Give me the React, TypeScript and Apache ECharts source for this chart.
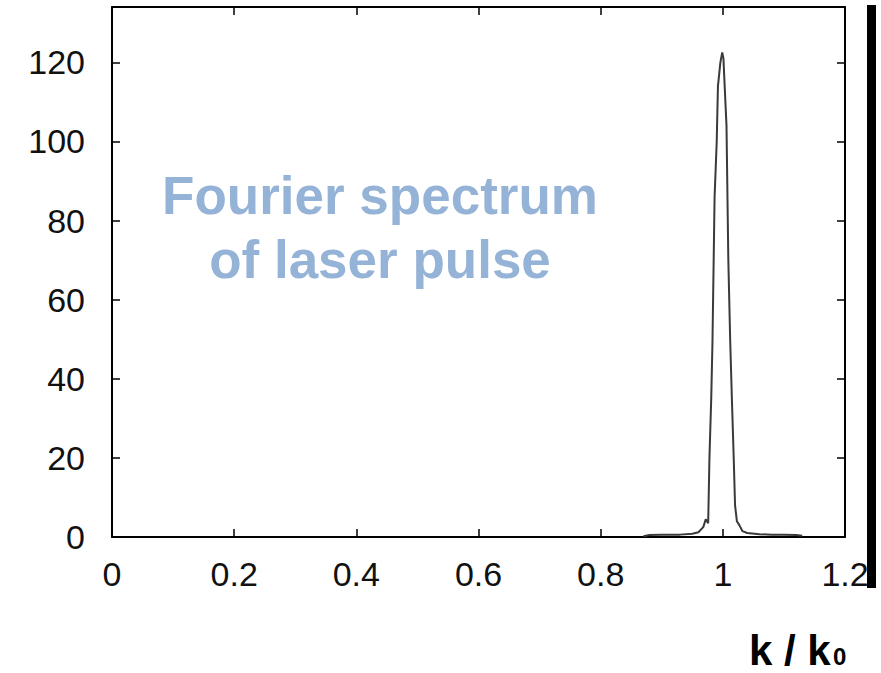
import React, { useEffect, useRef } from "react";
import * as echarts from "echarts";

// Normalised wavenumber k/k0 and spectral amplitude of the pulse
const kValues = [
  0.87, 0.88, 0.9, 0.93, 0.95, 0.96, 0.968, 0.972, 0.976, 0.978, 0.981, 0.983,
  0.985, 0.9865, 0.99, 0.992, 0.996, 0.999, 1.001, 1.003, 1.006, 1.009, 1.012,
  1.015, 1.018, 1.02, 1.023, 1.027, 1.032, 1.04, 1.06, 1.08, 1.1, 1.12, 1.13,
];
const amplitude = [
  0.2, 0.5, 0.6, 0.6, 0.8, 1.2, 2.5, 4.5, 3.5, 19.5, 35, 49, 70, 86, 100, 114,
  120, 122.5, 121, 114, 104, 70, 50, 34, 19, 8, 4, 3, 1.5, 1.0, 0.7, 0.6, 0.6,
  0.5, 0.3,
];

const xTicks = ["0", "0.2", "0.4", "0.6", "0.8", "1", "1.2"];
const yTicks = ["0", "20", "40", "60", "80", "100", "120"];

const titleLines = ["Fourier spectrum", "of laser pulse"];

export default function App() {
  const ref = useRef<HTMLDivElement>(null);

  useEffect(() => {
    if (!ref.current) return;
    const chart = echarts.init(ref.current, null, { renderer: "svg" });

    const labelFont = {
      fontFamily: "Liberation Sans",
      fontSize: 34,
      color: "#111",
    };
    const axisLine = { show: true, onZero: false, lineStyle: { color: "#000", width: 2 } };
    const tick = { show: true, inside: true, length: 8, lineStyle: { color: "#000", width: 1.5 } };

    const xFmt = (v: number) => {
      const i = Math.round(v / 0.2);
      return Math.abs(v - i * 0.2) < 1e-6 ? xTicks[i] ?? "" : "";
    };
    const yFmt = (v: number) => {
      const i = Math.round(v / 20);
      return Math.abs(v - i * 20) < 1e-6 ? yTicks[i] ?? "" : "";
    };

    chart.setOption({
      animation: false,
      backgroundColor: "#fff",
      grid: { left: 112, top: 7, right: 36, bottom: 136 },
      xAxis: [
        {
          type: "value",
          position: "bottom",
          min: 0,
          max: 1.2,
          interval: 0.2,
          axisLine,
          axisTick: tick,
          splitLine: { show: false },
          axisLabel: { ...labelFont, margin: 20, formatter: xFmt },
        },
        {
          type: "value",
          position: "top",
          min: 0,
          max: 1.2,
          interval: 0.2,
          axisLine,
          axisTick: tick,
          splitLine: { show: false },
          axisLabel: { show: false },
        },
      ],
      yAxis: [
        {
          type: "value",
          position: "left",
          min: 0,
          max: 134,
          interval: 20,
          axisLine,
          axisTick: tick,
          splitLine: { show: false },
          axisLabel: { ...labelFont, margin: 27, showMaxLabel: false, formatter: yFmt },
        },
        {
          type: "value",
          position: "right",
          min: 0,
          max: 134,
          interval: 20,
          axisLine,
          axisTick: tick,
          splitLine: { show: false },
          axisLabel: { show: false },
        },
      ],
      series: [
        {
          type: "line",
          xAxisIndex: 0,
          yAxisIndex: 0,
          data: kValues.map((k, i) => [k, amplitude[i]]),
          showSymbol: false,
          lineStyle: { color: "#3a3a3a", width: 2 },
        },
      ],
      graphic: [
        {
          type: "text",
          x: 380,
          y: 222,
          style: {
            text: titleLines[0],
            fill: "#95b3d7",
            font: "bold 53px 'Liberation Sans', Arial, sans-serif",
            textAlign: "center",
            textVerticalAlign: "bottom",
          },
        },
        {
          type: "text",
          x: 380,
          y: 286,
          style: {
            text: titleLines[1],
            fill: "#95b3d7",
            font: "bold 53px 'Liberation Sans', Arial, sans-serif",
            textAlign: "center",
            textVerticalAlign: "bottom",
          },
        },
        {
          type: "text",
          x: 749,
          y: 671,
          style: {
            text: "k / k",
            fill: "#000",
            font: "bold 42px 'Liberation Sans', Arial, sans-serif",
            textAlign: "left",
            textVerticalAlign: "bottom",
          },
        },
        {
          type: "text",
          x: 833,
          y: 668,
          style: {
            text: "0",
            fill: "#000",
            font: "bold 24px 'Liberation Sans', Arial, sans-serif",
            textAlign: "left",
            textVerticalAlign: "bottom",
          },
        },
        {
          type: "rect",
          z: 100,
          shape: { x: 867, y: 5, width: 9, height: 583 },
          style: { fill: "#000" },
        },
      ],
    });

    return () => chart.dispose();
  }, []);

  return (
    <div
      ref={ref}
      style={{ position: "absolute", left: 0, top: 0, width: 881, height: 673 }}
    />
  );
}
